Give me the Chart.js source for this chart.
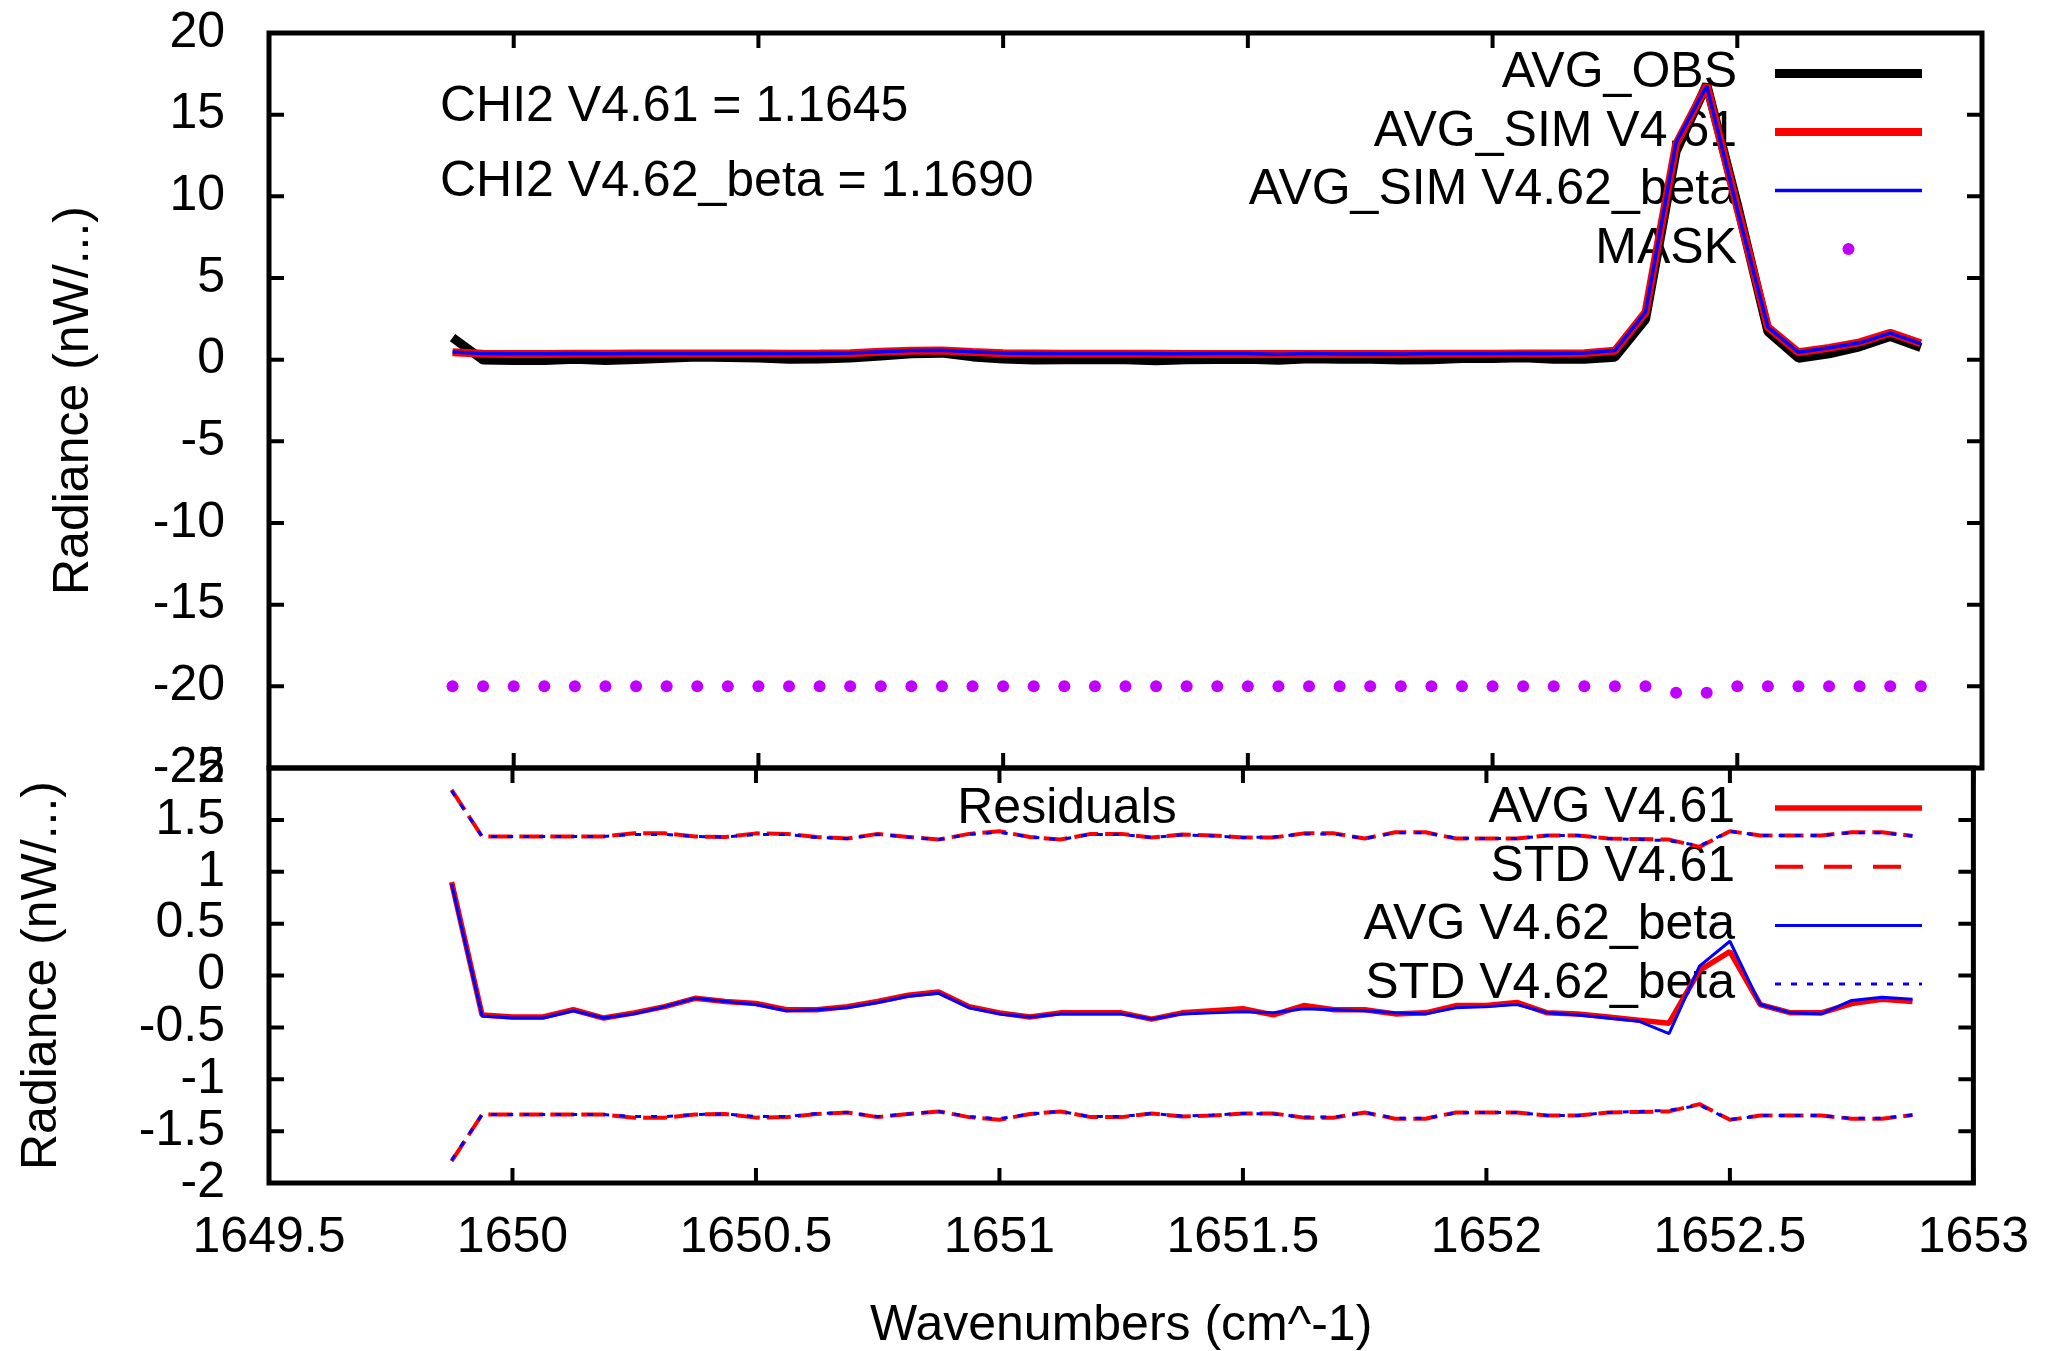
<!DOCTYPE html>
<html>
<head>
<meta charset="utf-8">
<script src="https://cdn.jsdelivr.net/npm/chart.js@4.4.1/dist/chart.umd.min.js"></script>
<style>
  html, body { margin: 0; padding: 0; background: #fff; }
  body { width: 2054px; height: 1351px; position: relative; overflow: hidden; }
  canvas { position: absolute; left: 0; }
  #top { top: 0; }
  #bottom { top: 700px; }
</style>
</head>
<body>
<canvas id="top" width="2054" height="800"></canvas>
<canvas id="bottom" width="2054" height="651"></canvas>
<script>
// --- data ---

// wavenumbers (cm^-1), one sample every 0.0625
const wavenumbers = [
  1649.875, 1649.9375, 1650, 1650.0625, 1650.125, 1650.1875, 1650.25, 1650.3125,
  1650.375, 1650.4375, 1650.5, 1650.5625, 1650.625, 1650.6875, 1650.75, 1650.8125,
  1650.875, 1650.9375, 1651, 1651.0625, 1651.125, 1651.1875, 1651.25, 1651.3125,
  1651.375, 1651.4375, 1651.5, 1651.5625, 1651.625, 1651.6875, 1651.75, 1651.8125,
  1651.875, 1651.9375, 1652, 1652.0625, 1652.125, 1652.1875, 1652.25, 1652.3125,
  1652.375, 1652.4375, 1652.5, 1652.5625, 1652.625, 1652.6875, 1652.75, 1652.8125,
  1652.875
];

// top panel
const avgObs = [
  1.35, -0.02, -0.05, -0.05, 0.03, -0.05, 0.01, 0.08, 0.16, 0.13, 0.10, 0.03,
  0.04, 0.10, 0.23, 0.36, 0.40, 0.17, 0.04, -0.02, 0.00, 0.00, 0.00, -0.06,
  -0.01, 0.01, 0.03, -0.03, 0.06, 0.02, 0.02, -0.02, 0.00, 0.07, 0.07, 0.11,
  0.02, 0.03, 0.15, 2.47, 12.74, 16.85, 9.53, 1.72, 0.09, 0.36, 0.79, 1.42,
  0.75
];
const avgSim461 = [
  0.45, 0.36, 0.35, 0.35, 0.36, 0.36, 0.37, 0.38, 0.38, 0.38, 0.37, 0.36,
  0.37, 0.40, 0.48, 0.55, 0.56, 0.47, 0.40, 0.38, 0.36, 0.36, 0.36, 0.36,
  0.35, 0.35, 0.35, 0.35, 0.35, 0.35, 0.35, 0.35, 0.36, 0.36, 0.36, 0.37,
  0.38, 0.40, 0.55, 2.90, 13.20, 16.80, 9.30, 2.00, 0.45, 0.72, 1.06, 1.65,
  1.00
];
const avgSim462 = [
  0.47, 0.37, 0.36, 0.36, 0.37, 0.36, 0.38, 0.38, 0.38, 0.38, 0.38, 0.37,
  0.37, 0.41, 0.49, 0.56, 0.57, 0.48, 0.41, 0.38, 0.37, 0.37, 0.37, 0.36,
  0.36, 0.37, 0.38, 0.33, 0.38, 0.35, 0.36, 0.34, 0.37, 0.38, 0.37, 0.39,
  0.38, 0.41, 0.56, 2.91, 13.30, 16.76, 9.20, 2.00, 0.45, 0.73, 1.03, 1.63,
  0.98
];
const mask = [
  -20, -20, -20, -20, -20, -20, -20, -20, -20, -20, -20, -20,
  -20, -20, -20, -20, -20, -20, -20, -20, -20, -20, -20, -20,
  -20, -20, -20, -20, -20, -20, -20, -20, -20, -20, -20, -20,
  -20, -20, -20, -20, -20.4, -20.4, -20, -20, -20, -20, -20, -20,
  -20
];

// bottom panel (residuals)
const resAvg461 = [
  0.90, -0.38, -0.40, -0.40, -0.33, -0.41, -0.36, -0.30, -0.22, -0.25, -0.27, -0.33,
  -0.33, -0.30, -0.25, -0.19, -0.16, -0.30, -0.36, -0.40, -0.36, -0.36, -0.36, -0.42,
  -0.36, -0.34, -0.32, -0.38, -0.29, -0.33, -0.33, -0.37, -0.36, -0.29, -0.29, -0.26,
  -0.36, -0.37, -0.40, -0.43, -0.46, 0.05, 0.23, -0.28, -0.36, -0.36, -0.27, -0.23,
  -0.25
];
const resStd461 = [
  1.79, 1.34, 1.34, 1.34, 1.34, 1.34, 1.37, 1.37, 1.34, 1.335, 1.37, 1.365,
  1.335, 1.32, 1.365, 1.335, 1.31, 1.365, 1.39, 1.335, 1.31, 1.365, 1.365, 1.33,
  1.36, 1.35, 1.33, 1.33, 1.37, 1.37, 1.32, 1.38, 1.38, 1.32, 1.32, 1.32,
  1.35, 1.35, 1.32, 1.315, 1.31, 1.24, 1.39, 1.35, 1.35, 1.35, 1.38, 1.38,
  1.345
];
const resAvg462 = [
  0.88, -0.39, -0.41, -0.41, -0.34, -0.41, -0.37, -0.30, -0.22, -0.25, -0.28, -0.34,
  -0.33, -0.31, -0.26, -0.20, -0.17, -0.31, -0.37, -0.40, -0.37, -0.37, -0.37, -0.42,
  -0.37, -0.36, -0.35, -0.36, -0.32, -0.33, -0.34, -0.36, -0.37, -0.31, -0.30, -0.28,
  -0.36, -0.38, -0.41, -0.44, -0.56, 0.09, 0.33, -0.28, -0.36, -0.37, -0.24, -0.21,
  -0.23
];
const resStd462 = [
  1.78, 1.34, 1.34, 1.34, 1.34, 1.34, 1.36, 1.36, 1.34, 1.335, 1.36, 1.36,
  1.33, 1.32, 1.36, 1.335, 1.31, 1.36, 1.38, 1.335, 1.31, 1.36, 1.36, 1.33,
  1.355, 1.345, 1.33, 1.335, 1.365, 1.365, 1.32, 1.375, 1.375, 1.325, 1.32, 1.32,
  1.35, 1.35, 1.32, 1.31, 1.30, 1.25, 1.39, 1.35, 1.35, 1.35, 1.375, 1.375,
  1.345
];

// axis ticks
const xTicks = [1649.5, 1650, 1650.5, 1651, 1651.5, 1652, 1652.5, 1653];
const yTicksTop = [-25, -20, -15, -10, -5, 0, 5, 10, 15, 20];
const yTicksBottom = [-2, -1.5, -1, -0.5, 0, 0.5, 1, 1.5, 2];

// --- helpers ---
const FONT = "'Liberation Sans', Arial, sans-serif";
Chart.defaults.font.family = FONT;
Chart.defaults.color = '#000';

function pts(ys, sign) {
  const s = sign || 1;
  return wavenumbers.map((x, i) => ({ x: x, y: s * ys[i] }));
}

function fmt(v) {
  return String(Math.round(v * 10) / 10);
}

// gnuplot-like frame: full box + inward ticks on all four sides
const framePlugin = {
  id: 'frame',
  afterDatasetsDraw(chart, args, opts) {
    const ctx = chart.ctx;
    const a = chart.chartArea;
    const sx = chart.scales.x, sy = chart.scales.y;
    ctx.save();
    ctx.strokeStyle = '#000';
    ctx.lineWidth = 4;
    ctx.beginPath();
    opts.xTicks.forEach(v => {
      const px = sx.getPixelForValue(v);
      ctx.moveTo(px, a.top); ctx.lineTo(px, a.top + 15);
      ctx.moveTo(px, a.bottom); ctx.lineTo(px, a.bottom - 15);
    });
    opts.yTicks.forEach(v => {
      const py = sy.getPixelForValue(v);
      ctx.moveTo(a.left, py); ctx.lineTo(a.left + 15, py);
      ctx.moveTo(a.right, py); ctx.lineTo(a.right - 15, py);
    });
    ctx.stroke();
    ctx.lineWidth = 5;
    ctx.strokeRect(a.left, a.top, a.right - a.left, a.bottom - a.top);
    ctx.restore();
  }
};

// key (text right aligned, sample on the right) and free labels
const keyPlugin = {
  id: 'key',
  beforeDatasetsDraw(chart, args, opts) {
    const ctx = chart.ctx;
    ctx.save();
    ctx.font = '50px ' + FONT;
    ctx.fillStyle = '#000';
    ctx.textBaseline = 'alphabetic';
    opts.notes.forEach(n => {
      ctx.textAlign = n.align;
      ctx.fillText(n.text, n.x, n.y);
    });
    let row = 0;
    chart.data.datasets.forEach(ds => {
      if (!ds.label) return;
      const y = opts.y + row * opts.step;
      ctx.textAlign = 'right';
      ctx.fillStyle = '#000';
      ctx.fillText(ds.label, opts.textX, y);
      const ly = y + opts.sampleDy;
      if (ds.showLine === false) {
        ctx.fillStyle = ds.backgroundColor;
        ctx.beginPath();
        ctx.arc((opts.x1 + opts.x2) / 2, ly, ds.pointRadius, 0, Math.PI * 2);
        ctx.fill();
      } else {
        ctx.strokeStyle = ds.borderColor;
        ctx.lineWidth = ds.borderWidth;
        ctx.setLineDash(ds.keyDash || ds.borderDash || []);
        ctx.beginPath();
        ctx.moveTo(opts.x1, ly);
        ctx.lineTo(opts.x2, ly);
        ctx.stroke();
        ctx.setLineDash([]);
      }
      row++;
    });
    ctx.restore();
  }
};

const baseOptions = {
  responsive: false,
  animation: false,
  devicePixelRatio: 1,
  elements: {
    point: { radius: 0, hoverRadius: 0 },
    line: { tension: 0, borderJoinStyle: 'bevel', borderCapStyle: 'butt' }
  }
};

// invisible tick marks are used as the gap between labels and the frame,
// because ticks.padding would also push the plot area down
function yAxis(min, max, step, title, titlePad) {
  return {
    min: min, max: max,
    ticks: { stepSize: step, padding: 0, autoSkip: false, font: { size: 50, lineHeight: 1.2 }, color: '#000', callback: fmt },
    grid: { display: true, drawOnChartArea: false, drawTicks: true, tickLength: 44, color: 'rgba(0,0,0,0)' },
    border: { display: false },
    title: { display: true, text: title, color: '#000', font: { size: 50, lineHeight: 1 }, padding: { top: titlePad, bottom: 0 } },
    afterFit(s) { s.width = 269; }
  };
}

// --- top panel: radiances ---
new Chart(document.getElementById('top'), {
  type: 'line',
  data: {
    datasets: [
      { label: 'AVG_OBS', data: pts(avgObs), borderColor: '#000000', borderWidth: 9, order: 3 },
      { label: 'AVG_SIM V4.61', data: pts(avgSim461), borderColor: '#ff0000', borderWidth: 8, order: 2 },
      { label: 'AVG_SIM V4.62_beta', data: pts(avgSim462), borderColor: '#0000ff', borderWidth: 3.5, order: 1 },
      { label: 'MASK', data: pts(mask), showLine: false, pointRadius: 6, pointStyle: 'circle',
        backgroundColor: '#c000ff', borderColor: '#c000ff', pointBorderWidth: 0, order: 0 }
    ]
  },
  options: Object.assign({}, baseOptions, {
    layout: { padding: { top: 33, right: 72, bottom: 32, left: 0 } },
    plugins: {
      legend: { display: false },
      tooltip: { enabled: false },
      frame: { xTicks: xTicks, yTicks: yTicksTop },
      key: {
        textX: 1737, y: 87, step: 58.5, sampleDy: -13.5, x1: 1775, x2: 1922,
        notes: [
          { text: 'CHI2 V4.61 = 1.1645', x: 440, y: 121, align: 'left' },
          { text: 'CHI2 V4.62_beta = 1.1690', x: 440, y: 196, align: 'left' }
        ]
      }
    },
    scales: {
      x: { type: 'linear', display: false, min: 1649.5, max: 1653 },
      y: yAxis(-25, 20, 5, 'Radiance (nW/...)', 49)
    }
  }),
  plugins: [framePlugin, keyPlugin]
});

// --- bottom panel: residuals ---
new Chart(document.getElementById('bottom'), {
  type: 'line',
  data: {
    datasets: [
      { label: 'AVG V4.61', data: pts(resAvg461), borderColor: '#ff0000', borderWidth: 5.5, order: 4 },
      { label: 'STD V4.61', data: pts(resStd461), borderColor: '#ff0000', borderWidth: 4,
        borderDash: [24, 7], keyDash: [28, 21], order: 3 },
      { label: 'AVG V4.62_beta', data: pts(resAvg462), borderColor: '#0000ff', borderWidth: 3, order: 2 },
      { label: 'STD V4.62_beta', data: pts(resStd462), borderColor: '#0000ff', borderWidth: 3,
        borderDash: [6, 10], order: 1 },
      { label: '', data: pts(resStd461, -1), borderColor: '#ff0000', borderWidth: 4, borderDash: [24, 7], order: 3 },
      { label: '', data: pts(resStd462, -1), borderColor: '#0000ff', borderWidth: 3, borderDash: [6, 10], order: 1 }
    ]
  },
  options: Object.assign({}, baseOptions, {
    layout: { padding: { top: 68, right: 72, bottom: 0, left: 0 } },
    plugins: {
      legend: { display: false },
      tooltip: { enabled: false },
      frame: { xTicks: xTicks, yTicks: yTicksBottom },
      key: {
        textX: 1735, y: 122, step: 58.7, sampleDy: -14, x1: 1775, x2: 1922,
        notes: [
          { text: 'Residuals', x: 1067, y: 123, align: 'center' }
        ]
      }
    },
    scales: {
      x: {
        type: 'linear', min: 1649.5, max: 1653,
        ticks: { stepSize: 0.5, padding: 25, autoSkip: false, maxRotation: 0,
          font: { size: 50, lineHeight: 1.2 }, color: '#000', callback: fmt },
        grid: { display: false, drawTicks: false },
        border: { display: false },
        title: { display: true, text: 'Wavenumbers (cm^-1)', color: '#000',
          font: { size: 50, lineHeight: 1 }, padding: { top: 0, bottom: 0 } },
        afterFit(s) { s.height = 168; }
      },
      y: yAxis(-2, 2, 0.5, 'Radiance (nW/...)', 17)
    }
  }),
  plugins: [framePlugin, keyPlugin]
});
</script>
</body>
</html>
